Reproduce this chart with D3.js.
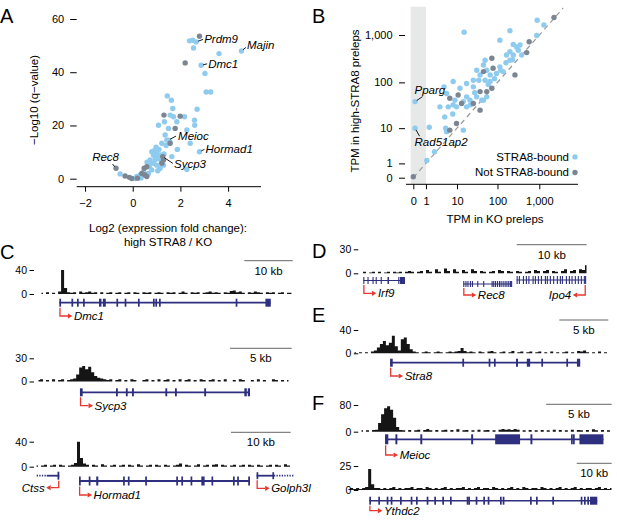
<!DOCTYPE html>
<html>
<head>
<meta charset="utf-8">
<script src="https://cdn.jsdelivr.net/npm/d3@7"></script>
<style>
  body { margin: 0; background: #fff; }
  svg { font-family: "Liberation Sans", Arial, sans-serif; }
</style>
</head>
<body>
<svg id="fig" width="617" height="528"></svg>
<script>
// ---------- panel A: volcano (log2 FC, -log10 q) ----------
const volcanoBound = [
  [2.38,51.8],[2.52,52.0],[2.66,51.4],[2.55,49.1],[2.87,42.6],[3.62,47.0],[4.56,48.0],[3.03,39.5],
  [3.08,32.6],[3.27,32.6],[2.70,26.1],[1.45,31.1],[1.62,29.5],[1.68,26.4],[1.57,23.9],[1.71,23.3],
  [2.17,23.3],[2.59,22.0],[2.60,20.1],[1.08,20.1],[1.33,21.4],[1.50,18.9],[1.85,21.4],[2.27,18.3],
  [1.36,16.4],[1.43,14.5],[1.22,13.3],[2.41,13.3],[2.80,10.1],[1.64,8.3],[1.87,11.0],[2.27,3.5],
  [0.80,10.1],[0.87,8.9],[0.94,8.3],[1.01,9.5],[1.08,7.6],[0.73,7.0],[0.66,5.8],[1.15,8.9],
  [1.31,9.3],[1.29,5.1],[1.15,3.9],[0.45,2.6],[0.17,0.8],[0.10,0.1],[0.24,0.5],[0.66,2.0],
  [0.31,1.4],[0.80,3.3],[-0.53,1.8],[0.87,5.8],[1.01,5.1],[0.90,10.5],[0.85,9.8],[0.95,7.2],
  [1.20,6.5],[0.70,4.5],[0.55,1.2],[1.40,12.5],[1.55,14.0],[1.10,11.0],[0.98,11.8],[0.60,6.2],
  [1.05,3.0],[0.35,0.3],[1.49,14.5]
];
const volcanoUnbound = [
  [2.80,53.5],[2.20,43.5],[1.31,23.9],[1.99,23.5],[1.78,18.9],[1.57,13.3],[1.29,7.0],[1.22,5.8],
  [0.59,4.5],[0.48,3.9],[0.38,2.0],[-0.04,0.1],[0.59,0.8],[-0.32,1.0],[-0.70,3.9],[-0.14,0.5],
  [0.50,1.5],[0.20,0.2],[1.26,8.3]
];
const volcanoXTicks = [-2, 0, 2, 4];
const volcanoYTicks = [0, 20, 40, 60];
const volcanoLabels = [
  ['Prdm9', 2.66, 51.4], ['Majin', 4.56, 48.0], ['Dmc1', 2.87, 42.6], ['Meioc', 1.49, 14.5],
  ['Hormad1', 2.80, 10.1], ['Sycp3', 1.26, 8.3], ['Rec8', -0.70, 3.9]
];

// ---------- panel B: TPM KO vs TPM high-STRA8 ----------
const tpmBound = [
  [890,2041],[1287,1621],[199,1229],[15.2,1147],[114,775],[870,976],[239,630],[287,561],
  [346,615],[315,478],[199,446],[165,379],[379,379],[239,379],[199,294],[114,213],
  [50.3,294],[45.8,233],[55.2,181],[37.9,144],[31.4,181],[25.9,111],[35.3,111],[50.3,111],
  [66.6,144],[66.6,104],[94.5,154],[137,169],[7.9,104],[17.6,94.5],[11.9,74.9],[25.9,80.3],
  [55.2,49.1],[41.7,41.7],[31.4,49.1],[17.6,49.1],[21.4,41.7],[14.5,38.8],[8.8,41.7],[5.2,57.9],
  [4.4,80.3],[9.7,29.9],[5.8,29.9],[7.9,32.9],[17.6,29.9],[45.8,41.7],[3.3,29.9],[4.6,18],
  [7.7,20.9],[4.9,10],[5.2,8.3],[14.5,9],[1.4,10.5],[2.2,2.5],[1.1,1.3],[0.1,10],[0.1,38.8],
  [160,260],[230,300],[120,180],[85,120],[60,90],[28,60],[22,33]
];
const tpmUnbound = [
  [2238,2343],[574,723],[500,426],[73.1,323],[78.4,199],[45.8,169],[262,144],[37.9,63.6],
  [55.2,63.6],[73.1,74.9],[10.7,54],[6.4,45.8],[13.1,35.3],[25.9,35.3],[37.9,25.3],[9.7,12.8],
  [6.4,9],[0,0.05]
];
const tpmTicks = [0, 1, 10, 100, 1000];
const tpmLabels = [['Pparg', 0.1, 38.8], ['Rad51ap2', 0.1, 10]];

// ---------- panels C-F: ChIP coverage tracks and gene models (kb) ----------
const dmc1Signal = [2,0,3,0,2,0,4,40,10,3, 2,3,0,4,2,3,4,2,3,0, 3,0,2,3,0,2,3,0,2,3,
  0,3,2,0,3,2,3,0,2,3, 2,0,3,2,3,0,2,4,2,0, 3,2,3,0,2,3,4,2,3,2, 0,3,2,5,6,3,4,2,0,3,
  2,4,3,2,0,3,2,3,0,2, 3,0,2,2];
const sycp3Signal = [2,3,0,2,0,3,0,2,3,0, 2,3,4,9,18,20,16,19,12,7, 5,4,3,2,3,0,2,3,0,2,
  0,3,2,0,0,2,3,0,2,0, 3,0,2,3,0,2,0,3,0,2, 3,0,2,0,3,2,0,2,3,0, 2,0,3,0,0,2,0,3,2,0,
  0,2,0,3,0,2,0,0,3,2, 0,2,0,2];
const hormad1Signal = [2,0,2,3,0,2,3,0,3,2, 0,2,3,6,40,14,5,3,0,3, 2,0,4,2,0,2,3,0,2,3,
  0,3,2,0,4,2,0,2,3,0, 3,2,0,3,2,0,2,3,5,0, 3,2,0,2,4,0,2,3,0,3, 4,0,3,2,0,2,3,0,2,3,
  0,3,2,0,3,2,0,2,3,0, 3,2,0,4,2,0];
const rec8Signal = [0,2,0,1,2,0,2,0,1,2, 0,2,1,2,0,2,3,2,0,2, 3,0,4,2,0,5,2,0,6,3,
  0,5,2,0,4,2,0,5,3,0, 3,2,0,2,3,0,4,3,0,3, 2,0,3,2,0,2,3,0,4,3, 0,3,4,0,3,2,0,3,5,0,
  3,4,0,5,4,10];
const stra8Signal = [2,0,2,0,2,0,3,5,10,16, 21,14,18,30,12,5,24,27,16,7, 3,2,0,2,3,2,0,2,3,2,
  0,2,3,2,3,4,9,4,2,3, 2,0,3,2,0,3,4,2,0,2, 3,0,2,4,0,2,3,0,2,3, 0,2,3,0,2,0,3,0,2,0,
  2,3,0,2,0,4,3,5,2,0, 2,0,3,0,2,0];
const meiocSignal = [4,0,4,0,5,6,26,52,70,76, 66,42,14,5,4,0,5,0,4,6, 0,5,8,4,0,5,0,4,6,0,
  5,0,7,0,4,5,0,4,0,6, 0,4,5,0,4,0,6,8,6,7, 5,8,6,0,4,0,5,0,4,0, 5,0,4,0,6,0,5,0,4,0,
  6,0,5,4,0,5,0,7,4,0, 5,0,4,0];
const ythdc2Signal = [1,2,1,2,1,2,3,22,6,2, 2,1,2,1,2,3,1,2,1,2, 2,3,1,2,2,1,3,2,1,2,
  1,2,3,1,2,1,2,2,3,1, 2,1,2,3,1,2,2,1,3,2, 1,2,1,2,3,1,2,1,3,2, 1,2,2,1,3,2,1,2,1,2,
  3,1,2,1,2,3,1,2,1,2, 2,1,2,3,1,2,1,2];

const dmc1Exons = [[4.0,4.25],[6.5,6.75],[7.65,7.9],[8.9,9.15],[12.2,12.7],[13.0,13.6],[15.8,16.05],
  [17.5,17.75],[20.25,20.5],[23.35,23.6],[23.85,24.1],[24.6,24.85],[40.45,40.7],[46.6,47.7]];
const sycp3Exons = [[3.48,3.7],[6.4,6.55],[7.2,7.35],[7.7,7.85],[10.4,10.55],[11.18,11.33],
  [13.55,13.7],[16.8,17.0],[17.08,17.26]];
const ctssExons = [[3.77,4.07]];
const hormad1Exons = [[7.37,7.6],[9.0,9.25],[10.25,10.6],[14.75,15.0],[15.55,15.8],[18.45,18.7],
  [23.65,23.9],[24.5,24.75],[26.05,26.3],[27.85,28.4],[29.55,29.8],[33.15,33.4],[33.85,34.1],[35.7,36.0]];
const golph3lExons = [[37.1,37.35],[39.75,40.0]];
const irf9Exons = [[0.47,0.62],[1.07,1.22],[1.79,1.94],[2.24,2.39],[2.96,3.11],[3.93,4.14],
  [5.47,5.62],[5.71,6.43]];
const rec8Exons = [[14.76,14.9],[15.07,15.2],[15.36,15.5],[15.71,15.85],[16.0,16.14],[16.76,16.9],
  [17.61,17.75],[18.81,18.95],[19.04,19.18],[19.29,19.43],[19.57,19.71],[19.86,20.0],[20.1,20.24],
  [20.39,20.53],[20.67,20.81],[20.93,21.07],[21.19,21.33],[21.43,21.57],[21.6,21.67]];
const ipo4Exons = [[22.39,22.5],[22.71,22.85],[23.29,23.43],[23.71,23.85],[24.07,24.21],[24.67,24.81],
  [25.0,25.14],[25.43,25.57],[25.86,26.0],[26.43,26.57],[26.71,26.85],[27.14,27.28],[27.61,27.75],
  [28.14,28.28],[28.57,28.71],[28.86,29.0],[29.43,29.57],[29.86,30.0],[30.24,30.38],[30.71,30.85],
  [31.14,31.28],[31.57,31.71],[32.0,32.14],[32.18,32.29]];
const stra8Exons = [[3.78,4.05],[11.15,11.3],[13.83,13.98],[14.37,14.52],[16.62,16.82],[17.72,18.06],
  [19.2,19.35],[21.75,21.9],[22.83,23.16]];
const meiocExons = [[1.91,2.16],[2.7,2.85],[4.6,4.75],[8.48,8.63],[10.31,12.21],[13.0,13.15],
  [16.1,16.2],[16.25,16.35],[16.74,18.57]];
const ythdc2Exons = [[6.37,6.7],[8.94,9.25],[11.34,11.65],[12.49,12.8],[15.14,15.45],[18.2,18.5],
  [19.71,20.0],[22.77,23.08],[24.94,25.25],[27.23,27.54],[29.43,29.74],[34.2,34.5],[34.66,34.96],
  [36.77,37.08],[38.94,39.25],[40.2,40.5],[43.71,44.0],[44.49,44.8],[52.29,52.6],[54.0,54.3],
  [58.66,58.97],[66.77,67.08],[67.71,68.0],[68.66,68.97],[69.43,71.51]];

// gene spans [start, end] in kb, strand, optional dotted extension
const genesC1 = [{name:'Dmc1', span:[4.0,47.7], strand:1, exons:dmc1Exons}];
const genesC2 = [{name:'Sycp3', span:[3.48,17.26], strand:1, exons:sycp3Exons}];
const genesC3 = [
  {name:'Ctss', span:[1.96,4.07], strand:-1, exons:ctssExons, ext:[0.28,1.96]},
  {name:'Hormad1', span:[7.37,36.0], strand:1, exons:hormad1Exons},
  {name:'Golph3l', span:[37.1,40.0], strand:1, exons:golph3lExons, ext:[40.0,43.3]}
];
const genesD = [
  {name:'Irf9', span:[0.47,6.43], strand:1, exons:irf9Exons},
  {name:'Rec8', span:[14.76,21.67], strand:1, exons:rec8Exons},
  {name:'Ipo4', span:[22.39,32.29], strand:-1, exons:ipo4Exons}
];
const genesE = [{name:'Stra8', span:[3.78,23.16], strand:1, exons:stra8Exons}];
const genesF1 = [{name:'Meioc', span:[1.91,18.57], strand:1, exons:meiocExons}];
const genesF2 = [{name:'Ythdc2', span:[6.37,71.51], strand:1, exons:ythdc2Exons}];

const BLUE = '#8ecbee', GREY = '#7c8693', NAVY = '#2e2f7e', RED = '#e5392f';
const svg = d3.select('#fig');

// panel letters
[['A',0,23],['B',312,23],['C',0,259],['D',312,258],['E',312,322],['F',312,410]].forEach(function(p) {
  svg.append('text').attr('x', p[1]).attr('y', p[2]).style('font-size', '20px').text(p[0]);
});

function styleAxis(g) {
  g.select('.domain').remove();
  g.selectAll('.tick line').attr('stroke', '#000');
  g.selectAll('.tick text').attr('fill', '#000');
}

// ================= A =================
const ax = d3.scaleLinear().domain([-2.35, 5.38]).range([76.7, 261]);
const ay = d3.scaleLinear().domain([0, 60]).range([178.7, 19]);

let gA = svg.append('g');
gA.append('g')
  .attr('transform', 'translate(0,186.7)')
  .style('font-size', '11px')
  .call(d3.axisBottom(ax).tickValues(volcanoXTicks).tickSize(5).tickPadding(7.5))
  .call(styleAxis);
gA.append('line').attr('x1', ax.range()[0]).attr('x2', ax.range()[1])
  .attr('y1', 186.7).attr('y2', 186.7).attr('stroke', '#000');
gA.append('g')
  .attr('transform', 'translate(76.7,0)')
  .style('font-size', '11px')
  .call(d3.axisLeft(ay).tickValues(volcanoYTicks).tickSize(6.5).tickPadding(6))
  .call(styleAxis);

gA.append('text').attr('transform', 'translate(38,100) rotate(-90)')
  .attr('text-anchor', 'middle').style('font-size', '11.5px').text('\u2212Log10 (q\u2212value)');
gA.append('text').attr('x', 168).attr('y', 231.5).attr('text-anchor', 'middle')
  .style('font-size', '11.5px').text('Log2 (expression fold change):');
gA.append('text').attr('x', 168).attr('y', 245.5).attr('text-anchor', 'middle')
  .style('font-size', '11.5px').text('high STRA8 / KO');

gA.selectAll('circle.bound').data(volcanoBound).enter().append('circle')
  .attr('cx', d => ax(d[0])).attr('cy', d => ay(d[1])).attr('r', 2.7).attr('fill', BLUE);
gA.selectAll('circle.unbound').data(volcanoUnbound).enter().append('circle')
  .attr('cx', d => ax(d[0])).attr('cy', d => ay(d[1])).attr('r', 2.7).attr('fill', GREY);

// label placement: leader end and text offsets in px from the point
const volcanoLabelPos = {
  Prdm9:   {lead:[7,-2.5],  text:[8,1.6],   anchor:'start'},
  Majin:   {lead:[4.5,-3.5],text:[5.5,-1.9],anchor:'start'},
  Dmc1:    {lead:[6,-1.5],  text:[7,2.7],   anchor:'start'},
  Meioc:   {lead:[7.8,-4],  text:[9.8,-0.6],anchor:'start'},
  Hormad1: {lead:[5,-2.5],  text:[6,1.2],   anchor:'start'},
  Sycp3:   {lead:[10,6.7],  text:[11.2,10.9],anchor:'start'},
  Rec8:    {lead:[-3.5,-4.3],text:[3,-7.8], anchor:'end'}
};

function drawLabels(g, labels, sx, sy, pos) {
  labels.forEach(function(l) {
    const px = sx(l[1]), py = sy(l[2]), p = pos[l[0]];
    const len = Math.hypot(p.lead[0], p.lead[1]);
    g.append('line')
      .attr('x1', px + p.lead[0] / len * 2).attr('y1', py + p.lead[1] / len * 2)
      .attr('x2', px + p.lead[0]).attr('y2', py + p.lead[1])
      .attr('stroke', '#000').attr('stroke-width', 0.9);
    g.append('text').attr('x', px + p.text[0]).attr('y', py + p.text[1])
      .attr('text-anchor', p.anchor).style('font-size', '11.5px').style('font-style', 'italic')
      .text(l[0]);
  });
}
drawLabels(gA, volcanoLabels, ax, ay, volcanoLabelPos);

// ================= B =================
const bx = d3.scaleSymlog().constant(1).domain([0, 1000]).range([413.3, 539.3]);
const by = d3.scaleSymlog().constant(1).domain([0, 1000]).range([177.7, 35]);
let gB = svg.append('g');

gB.append('rect').attr('x', 410.7).attr('y', 6.7)
  .attr('width', bx(1) - 410.7).attr('height', 184.3 - 6.7).attr('fill', '#e7e8e8');

gB.append('g')
  .attr('transform', 'translate(0,184.3)')
  .style('font-size', '11px')
  .call(d3.axisBottom(bx).tickValues(tpmTicks).tickFormat(d3.format(',')).tickSize(5).tickPadding(8))
  .call(styleAxis);
gB.append('line').attr('x1', 406).attr('x2', 578).attr('y1', 184.3).attr('y2', 184.3).attr('stroke', '#000');
gB.append('g')
  .attr('transform', 'translate(405,0)')
  .style('font-size', '11px')
  .call(d3.axisLeft(by).tickValues(tpmTicks).tickFormat(d3.format(',')).tickSize(6).tickPadding(6.5))
  .call(styleAxis);

gB.append('line')
  .attr('x1', bx(0)).attr('y1', by(0)).attr('x2', bx(3700)).attr('y2', by(3700))
  .attr('stroke', '#9a9a9a').attr('stroke-width', 1.2).attr('stroke-dasharray', '5,4');

gB.append('text').attr('transform', 'translate(359,101) rotate(-90)')
  .attr('text-anchor', 'middle').style('font-size', '11.5px').text('TPM in high-STRA8 preleps');
gB.append('text').attr('x', 495).attr('y', 223).attr('text-anchor', 'middle')
  .style('font-size', '11.5px').text('TPM in KO preleps');

gB.selectAll('circle.bound').data(tpmBound).enter().append('circle')
  .attr('cx', d => bx(d[0])).attr('cy', d => by(d[1])).attr('r', 2.7).attr('fill', BLUE);
gB.selectAll('circle.unbound').data(tpmUnbound).enter().append('circle')
  .attr('cx', d => bx(d[0])).attr('cy', d => by(d[1])).attr('r', 2.7).attr('fill', GREY);

drawLabels(gB, tpmLabels, bx, by, {
  Pparg:    {lead:[7.5,-5], text:[-0.5,-7.6], anchor:'start'},
  Rad51ap2: {lead:[4.5,8],  text:[-0.5,17.8], anchor:'start'}
});

// legend
[['STRA8-bound', BLUE, 160.7], ['Not STRA8-bound', GREY, 176.3]].forEach(function(l) {
  gB.append('text').attr('x', 569).attr('y', l[2]).attr('text-anchor', 'end')
    .style('font-size', '11.5px').text(l[0]);
  gB.append('circle').attr('cx', 575).attr('cy', l[2] - 3.8).attr('r', 2.7).attr('fill', l[1]);
});

// ================= C-F tracks =================
const tracks = [
  {signal:dmc1Signal, max:40, kb:52.3, x0:40, x1:293, base:294, top:270, axX:34,
   bar:10, barRight:292.7, barY:260.7, genes:genesC1,
   lay:{Dmc1:{y:302.7, ay:316, h:8}}, lw:1.8},
  {signal:sycp3Signal, max:30, kb:20.5, x0:37, x1:290, base:381.5, top:358.3, axX:34,
   bar:5, barRight:291.7, barY:348.3, genes:genesC2,
   lay:{Sycp3:{y:392.3, ay:405.7, h:8}}, lw:1.8},
  {signal:hormad1Signal, max:40, kb:43.2, x0:35, x1:293, base:466.7, top:441.7, axX:34,
   bar:10, barRight:290.7, barY:432.3, genes:genesC3,
   lay:{Ctss:{y:475.7, ay:487.7, h:8}, Hormad1:{y:481, ay:495, h:9}, Golph3l:{y:475.7, ay:488.3, h:7}}, lw:1.8},
  {signal:rec8Signal, max:30, kb:32.6, x0:360, x1:588, base:273.3, top:249.3, axX:358.3,
   bar:10, barRight:586.7, barY:244.7, genes:genesD,
   lay:{Irf9:{y:280.5, ay:293.3, h:7}, Rec8:{y:284, ay:295, h:6}, Ipo4:{y:280, ay:295, h:8}}, lw:1.1},
  {signal:stra8Signal, max:40, kb:26.2, x0:353, x1:610, base:353.3, top:330, axX:358.3,
   bar:5, barRight:608.3, barY:320, genes:genesE,
   lay:{Stra8:{y:362.7, ay:376, h:8}}, lw:1.8},
  {signal:meiocSignal, max:80, kb:19.3, x0:360, x1:613, base:431.7, top:405, axX:358.3,
   bar:5, barRight:611.7, barY:404.3, genes:genesF1,
   lay:{Meioc:{y:439.3, ay:455, h:10}}, lw:1.8},
  {signal:ythdc2Signal, max:25, kb:76, x0:347, x1:613, base:490, top:466, axX:358.3,
   bar:10, barRight:611.7, barY:463.3, genes:genesF2,
   lay:{Ythdc2:{y:500.7, ay:510.7, h:8}}, lw:1.6}
];

function drawGene(g, x, gene, lay, lw) {
  if (gene.ext) {
    g.append('line').attr('x1', x(gene.ext[0])).attr('x2', x(gene.ext[1]))
      .attr('y1', lay.y).attr('y2', lay.y)
      .attr('stroke', NAVY).attr('stroke-width', lw).attr('stroke-dasharray', '1.3,1.3');
  }
  g.append('line').attr('x1', x(gene.span[0])).attr('x2', x(gene.span[1]))
    .attr('y1', lay.y).attr('y2', lay.y).attr('stroke', NAVY).attr('stroke-width', lw);
  g.selectAll(null).data(gene.exons).enter().append('rect')
    .attr('x', d => x(d[0]))
    .attr('width', d => Math.max(lw < 1.5 ? 1.1 : 1.7, x(d[1]) - x(d[0])))
    .attr('y', lay.y - lay.h / 2).attr('height', lay.h).attr('fill', NAVY);

  // TSS arrow
  const dir = gene.strand;
  const tx = x(dir > 0 ? gene.span[0] : gene.span[1]) + (dir > 0 ? 0.6 : -0.6);
  const hx = tx + dir * 8;
  g.append('path')
    .attr('d', 'M' + tx + ',' + (lay.y + lay.h / 2 + 1) + 'V' + lay.ay + 'H' + hx)
    .attr('fill', 'none').attr('stroke', RED).attr('stroke-width', 1.3);
  g.append('path')
    .attr('d', 'M' + hx + ',' + (lay.ay - 2.6) + 'L' + (hx + dir * 4.5) + ',' + lay.ay +
      'L' + hx + ',' + (lay.ay + 2.6) + 'Z')
    .attr('fill', RED);
  g.append('text').attr('x', tx + dir * 14).attr('y', lay.ay + 4)
    .attr('text-anchor', dir > 0 ? 'start' : 'end')
    .style('font-size', '11.5px').style('font-style', 'italic').text(gene.name);
}

tracks.forEach(function(t) {
  const g = svg.append('g');
  const x = d3.scaleLinear().domain([0, t.kb]).range([t.x0, t.x1]);
  const y = d3.scaleLinear().domain([0, t.max]).range([t.base, t.top]);
  const bin = d3.scaleLinear().domain([0, t.signal.length]).range([t.x0, t.x1]);

  // coverage drawn as steps so the low background reads as separate ticks
  const area = d3.area()
    .curve(d3.curveStep)
    .x((d, i) => bin(i + 0.5))
    .y0(t.base)
    .y1(d => y(d));
  g.append('path').datum(t.signal).attr('d', area).attr('fill', '#151515');

  g.append('g')
    .attr('transform', 'translate(' + t.axX + ',0)')
    .style('font-size', '10.5px')
    .call(d3.axisLeft(y).tickValues([0, t.max]).tickSize(4.5).tickPadding(2.5))
    .call(styleAxis);

  // scale bar
  const len = x(t.bar) - x(0);
  g.append('line').attr('x1', t.barRight - len).attr('x2', t.barRight)
    .attr('y1', t.barY).attr('y2', t.barY).attr('stroke', '#666').attr('stroke-width', 1);
  g.append('text').attr('x', t.barRight - len / 2).attr('y', t.barY + 13.8)
    .attr('text-anchor', 'middle').style('font-size', '11.5px').text(t.bar + ' kb');

  t.genes.forEach(gene => drawGene(g, x, gene, t.lay[gene.name], t.lw));
});
</script>
</body>
</html>
